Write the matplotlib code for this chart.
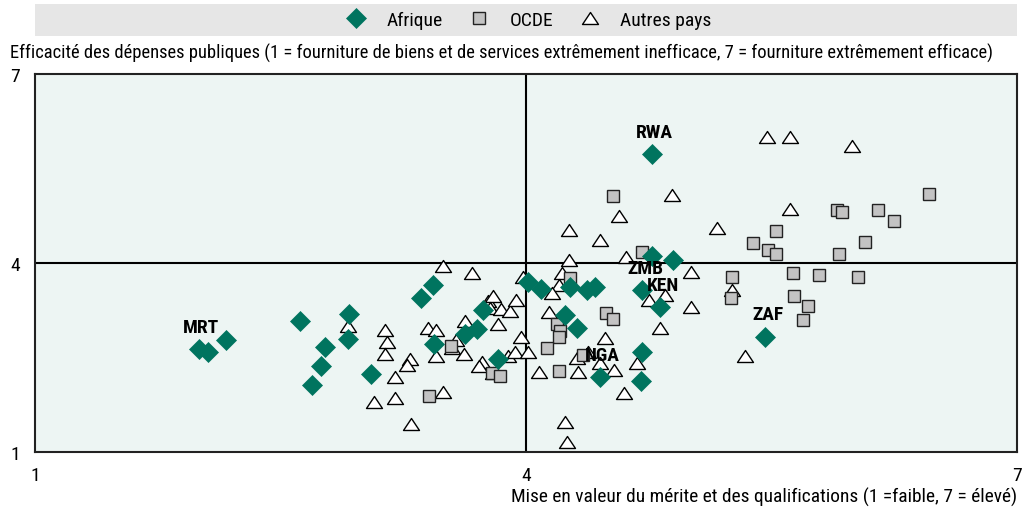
import matplotlib
matplotlib.use("Agg")
import matplotlib.pyplot as plt
from matplotlib import font_manager
from matplotlib.patches import Rectangle
from matplotlib.path import Path

# police étroite si disponible
installed = {f.name for f in font_manager.fontManager.ttflist}
narrow = [f for f in ['Roboto Condensed', 'Liberation Sans Narrow',
                      'Open Sans Condensed', 'DejaVu Sans Condensed']
          if f in installed]
condensed_dejavu = any(f.name == 'DejaVu Sans' and f.stretch in ('condensed', 600, 'semi-condensed')
                       for f in font_manager.fontManager.ttflist)
if narrow:
    plt.rcParams['font.family'] = [narrow[0], 'DejaVu Sans']
else:
    plt.rcParams['font.family'] = ['DejaVu Sans']
    if condensed_dejavu:
        plt.rcParams['font.stretch'] = 'condensed'

# Afrique: (mise en valeur du mérite, efficacité des dépenses)
afr_x = [4.77, 2.00, 2.06, 2.17, 2.62, 2.92, 2.91, 2.77, 2.75, 2.69, 3.05,
         3.43, 3.36, 3.44, 3.63, 3.70, 3.74, 3.83, 4.01, 4.09, 4.27, 4.37,
         4.42, 4.77, 4.90, 4.71, 4.82, 4.24, 4.31, 4.71, 4.70, 4.45, 5.46]
afr_y = [5.73, 2.63, 2.59, 2.78, 3.08, 3.19, 2.79, 2.67, 2.37, 2.06, 2.24,
         3.65, 3.44, 2.71, 2.87, 2.95, 3.25, 2.48, 3.70, 3.59, 3.62, 3.57,
         3.62, 4.11, 4.05, 3.57, 3.30, 3.17, 2.97, 2.59, 2.13, 2.19, 2.83]

# codes pays affichés (index dans afr_x / afr_y)
afr_labels = {0: "RWA", 1: "MRT", 25: "ZMB", 26: "KEN", 31: "NGA", 32: "ZAF"}

ocde_x = [3.41, 3.54, 3.79, 3.84, 4.53, 4.71, 4.27, 4.49, 4.53, 4.19, 4.21,
          4.20, 4.13, 4.35, 4.20, 6.46, 5.90, 5.93, 6.15, 6.25, 5.53, 5.39,
          5.48, 5.53, 5.91, 6.07, 5.63, 5.79, 6.03, 5.26, 5.25, 5.64, 5.72,
          5.69]
ocde_y = [1.89, 2.68, 2.25, 2.21, 5.06, 4.17, 3.76, 3.21, 3.11, 3.03, 2.92,
          2.83, 2.65, 2.54, 2.29, 5.10, 4.84, 4.81, 4.84, 4.67, 4.51, 4.32,
          4.21, 4.14, 4.14, 4.33, 3.84, 3.81, 3.78, 3.78, 3.44, 3.48, 3.32,
          3.10]

autres_x = [3.49, 3.67, 3.98, 2.91, 3.14, 3.15, 3.14, 3.40, 3.45, 3.29, 3.27,
            3.20, 3.07, 3.20, 3.30, 3.49, 3.45, 3.63, 3.57, 3.55, 3.62, 3.73,
            3.71, 3.80, 3.77, 3.80, 3.78, 3.85, 3.90, 3.94, 3.83, 3.97, 3.89,
            3.93, 4.01, 4.89, 4.57, 4.26, 4.45, 4.26, 4.61, 4.22, 4.20, 4.16,
            5.01, 4.85, 4.75, 5.01, 4.14, 4.82, 4.48, 4.08, 4.31, 4.38, 4.45,
            4.32, 4.54, 4.68, 4.60, 4.24, 4.25, 5.47, 5.61, 5.99, 5.61, 5.17,
            5.26, 5.34]
autres_y = [3.95, 3.84, 3.78, 3.00, 2.94, 2.75, 2.56, 2.97, 2.94, 2.48, 2.38,
            2.19, 1.79, 1.86, 1.44, 1.95, 2.52, 3.08, 2.78, 2.65, 2.56, 2.43,
            2.37, 2.25, 3.40, 3.48, 3.29, 3.27, 3.24, 3.41, 3.03, 2.83, 2.52,
            2.59, 2.59, 5.08, 4.75, 4.52, 4.37, 4.05, 4.10, 3.84, 3.65, 3.52,
            3.86, 3.49, 3.41, 3.30, 3.22, 2.97, 2.81, 2.27, 2.49, 2.59, 2.41,
            2.27, 2.30, 2.41, 1.94, 1.48, 1.16, 6.00, 6.00, 5.86, 4.86, 4.56,
            3.57, 2.52]

green = '#00745f'
# triangle plus large que haut
tri = Path([(-1, -0.75), (1, -0.75), (0, 0.75), (-1, -0.75)], closed=True)

fig = plt.figure(figsize=(10.24, 5.10), dpi=100)
ax = fig.add_axes([35 / 1024, 1 - 453 / 510, 982 / 1024, 378 / 510])
ax.set_facecolor('#edf5f3')

ax.axvline(4, color='black', lw=1.5, zorder=1)
ax.axhline(4, color='black', lw=1.5, zorder=1)

ax.plot(autres_x, autres_y, ls='none', marker=tri, ms=11.5, mfc='white',
        mec='black', mew=1.0, zorder=3, label='Autres pays')
ax.plot(ocde_x, ocde_y, ls='none', marker='s', ms=8.5, mfc='#c3c3c3',
        mec='#222222', mew=1.0, zorder=3, label='OCDE')
ax.plot(afr_x, afr_y, ls='none', marker='D', ms=10, mfc=green,
        mec=green, mew=0.5, zorder=4, label='Afrique')

for i, code in afr_labels.items():
    ax.annotate(code, (afr_x[i], afr_y[i]), xytext=(2, 16),
                textcoords='offset points', ha='center', va='center',
                fontsize=14, fontweight='bold', zorder=5)

ax.set_xlim(1, 7)
ax.set_ylim(1, 7)
ax.set_xticks([1, 4, 7])
ax.set_yticks([1, 4, 7])
ax.tick_params(length=0, labelsize=14)
ax.tick_params(axis='x', pad=10)
ax.tick_params(axis='y', pad=11)
for s in ax.spines.values():
    s.set_color('#222222')
    s.set_linewidth(1.5)

# bandeau de la légende
fig.patches.append(Rectangle((35 / 1024, 1 - 37 / 510), 982 / 1024, 32 / 510,
                             transform=fig.transFigure, facecolor='#e6e6e6',
                             edgecolor='none', zorder=0))
handles, labels = ax.get_legend_handles_labels()
order = [2, 1, 0]
fig.legend([handles[k] for k in order], [labels[k] for k in order],
           loc='center', bbox_to_anchor=(526 / 1024, 1 - 21 / 510), ncol=3,
           frameon=False, fontsize=14, handletextpad=0.75, columnspacing=1.1,
           handlelength=1.6)

ytitle = fig.text(10 / 1024, 1 - 53 / 510,
                  "Efficacité des dépenses publiques (1 = fourniture de biens et de services "
                  "extrêmement inefficace, 7 = fourniture extrêmement efficace)",
                  ha='left', va='center', fontsize=12)
xtitle = fig.text(1017 / 1024, 1 - 497 / 510,
                  "Mise en valeur du mérite et des qualifications (1 =faible, 7 = élevé)",
                  ha='right', va='center', fontsize=12)

# ajuste la taille des titres à la largeur voulue
renderer = fig.canvas.get_renderer()
for t, target in [(ytitle, 980), (xtitle, 505)]:
    w = t.get_window_extent(renderer).width
    t.set_fontsize(12 * target / w)

fig.savefig('out.png', dpi=100)
